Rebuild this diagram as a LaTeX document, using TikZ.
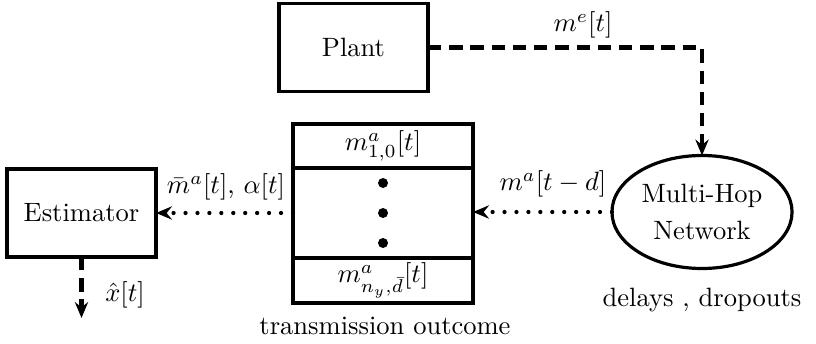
\documentclass[tikz,border=0pt]{standalone}
\usetikzlibrary{arrows.meta,shapes.geometric}
\begin{document}
\begin{tikzpicture}[x=0.377pt,y=-0.377pt,
  blk/.style={draw,line width=1.2pt,minimum width=56.2pt,minimum height=33.2pt,inner sep=0pt,outer sep=0pt},
  cell/.style={draw,line width=1.2pt,minimum width=67.9pt,inner sep=0pt,outer sep=0pt},
  dsh/.style={line width=1.6pt,dash pattern=on 5pt off 3pt,-{Stealth[length=6pt,width=5pt,inset=2pt]}},
  dot/.style={line width=1.6pt,line cap=round,dash pattern=on 0pt off 4.5pt,-{Stealth[length=6pt,width=5pt,inset=2pt]}},
  lbl/.style={inner sep=0pt}]
\useasboundingbox (0,0) rectangle (816,344);
\node[blk] (plant) at (353.5,47.5) {Plant};
\node[blk] (est) at (81.5,213) {Estimator};
\node[draw,ellipse,line width=1.2pt,minimum width=67.9pt,minimum height=42.6pt,inner sep=0pt,outer sep=0pt,align=center] (net) at (702,212) {Multi-Hop\\[2pt]Network};
\node[cell,minimum height=16.6pt] (top) at (383,146) {$m^a_{1,0}[t]$};
\node[cell,minimum height=33.9pt,anchor=north] (mid) at (top.south) {};
\node[cell,minimum height=17.0pt,anchor=north] (bot) at (mid.south) {$m^a_{n_y,\bar d}[t]$};
\foreach \yy in {183,213,243} \fill (383,\yy) circle (5);
\node[lbl] (tro) at (385,326) {transmission outcome};
\node[lbl] (dd) at (702,300) {delays , dropouts};
\coordinate (corner) at (702,47.5);
\coordinate (xout) at (81.5,318);
\draw[dsh] (plant.east) -- (corner) -- (net.north);
\draw[dot] (net.west) -- (mid.east |- net.west);
\draw[dot] (mid.west |- est.east) -- (est.east);
\draw[dsh] (est.south) -- (xout);
\node[lbl] (me) at (583,25) {$m^e[t]$};
\node[lbl] (mad) at (553,184) {$m^a[t-d]$};
\node[lbl] (mba) at (226,187) {$\bar m^a[t]$, $\alpha[t]$};
\node[lbl] (xh) at (125,295) {$\hat x[t]$};
\end{tikzpicture}
\end{document}
